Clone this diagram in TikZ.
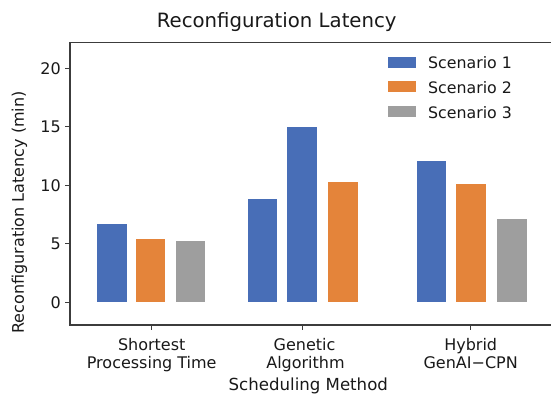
\documentclass[tikz,border=0pt]{standalone}
\usepackage{fontspec}
\setmainfont{DejaVu Sans}
\definecolor{sblue}{RGB}{72,110,183}
\definecolor{sorange}{RGB}{228,132,58}
\definecolor{sgray}{RGB}{158,158,158}
\definecolor{axisc}{RGB}{60,60,60}
\definecolor{txt}{RGB}{25,25,25}
\begin{document}
\begin{tikzpicture}[x=1pt,y=-1pt,
  lbl/.style={text=txt,inner sep=0pt,font=\fontsize{16}{18}\selectfont},
  ticklbl/.style={lbl,anchor=base east},
  catlbl/.style={lbl,anchor=base},
  spine/.style={draw=axisc,line width=1.1pt},
  tickmark/.style={draw=axisc,line width=1pt}]
\useasboundingbox[fill=white] (0,0) rectangle (551,396);

% bars, drawn in data units (y = value, pointing up)
\begin{scope}[shift={(0,302.3)},y=11.7pt]
  % Shortest Processing Time
  \fill[sblue]   (97.3,0)  rectangle (126.7,6.7);
  \fill[sorange] (136,0)   rectangle (165.3,5.4);
  \fill[sgray]   (175.7,0) rectangle (204.5,5.2);
  % Genetic Algorithm
  \fill[sblue]   (247.5,0) rectangle (277.3,8.8);
  \fill[sblue]   (286.5,0) rectangle (317.3,15.0);
  \fill[sorange] (327.7,0) rectangle (358,10.3);
  % Hybrid GenAI-CPN
  \fill[sblue]   (416.7,0) rectangle (446,12.1);
  \fill[sorange] (456,0)   rectangle (486,10.1);
  \fill[sgray]   (497,0)   rectangle (526.7,7.1);
  % y ticks and labels
  \foreach \v in {0,5,10,15,20}{
    \draw[tickmark] (65,\v) -- (70,\v);
    \node[ticklbl] (yt\v) at (61,\v) [yshift=-5.9pt] {\v};
  }
\end{scope}

% axes frame
\coordinate (ll) at (70,325);
\coordinate (ul) at (70,42.7);
\coordinate (lr) at (553,325);
\coordinate (ur) at (553,42.7);
\draw[spine] (lr) -- (ll) -- (ul) -- (ur);

% x ticks
\foreach \x in {151.7,302.5,470.7}{
  \draw[tickmark] (\x,325) -- (\x,330);
}

% category labels
\node[catlbl] (c1a) at (151.7,350.5) {Shortest};
\node[catlbl] (c1b) at (151.7,368.6) {Processing Time};
\node[catlbl] (c2a) at (304.5,350.5) {Genetic};
\node[catlbl] (c2b) at (305.5,368.6) {Algorithm};
\node[catlbl] (c3a) at (470.7,350.5) {Hybrid};
\node[catlbl] (c3b) at (470.7,368.6) {GenAI−CPN};
\node[catlbl,font=\fontsize{16.6}{18}\selectfont] (xl) at (308.3,390.5) {Scheduling Method};

% y label
\node[lbl,rotate=90] (yl) at (19.5,212.5) {Reconfiguration Latency (min)};

% title
\node[lbl,anchor=base,font=\fontsize{19.7}{22}\selectfont] (title) at (276.7,27.3) {Reconfiguration Latency};

% legend
\foreach \c/\t/\yy [count=\i] in {sblue/Scenario 1/62.2, sorange/Scenario 2/86.5, sgray/Scenario 3/111.2}{
  \fill[\c] (388.3,\yy-5.4) rectangle (416,\yy+5.4);
  \node[lbl,anchor=base west,font=\fontsize{15.8}{18}\selectfont] (leg\i) at (428,\yy+6.8) {\t};
}
\end{tikzpicture}
\end{document}
